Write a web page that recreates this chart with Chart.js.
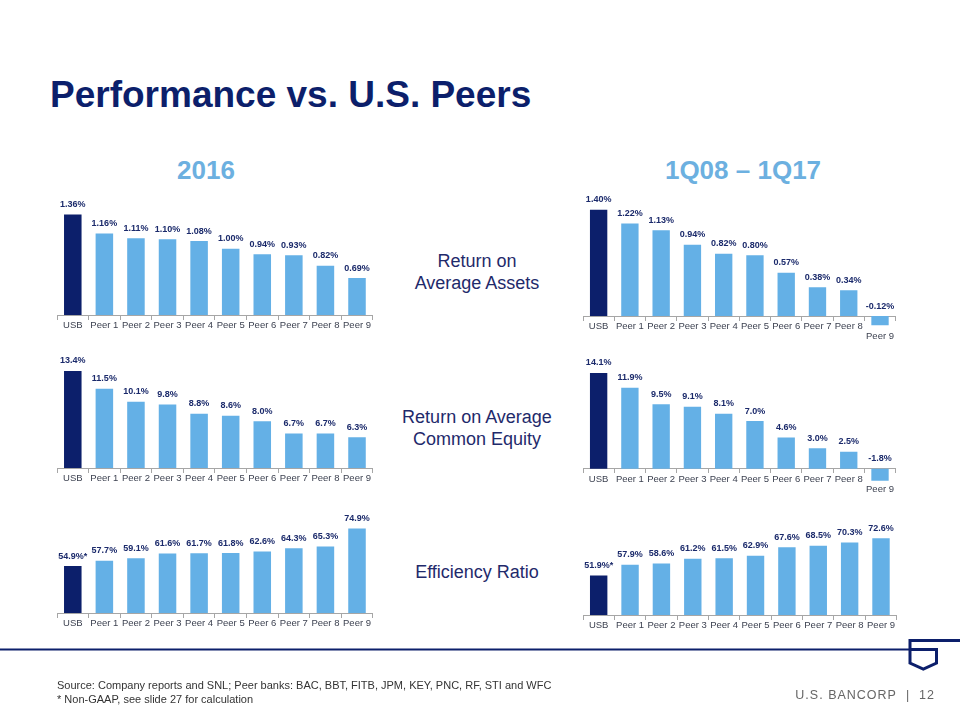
<!DOCTYPE html>
<html>
<head>
<meta charset="utf-8">
<script src="https://cdn.jsdelivr.net/npm/chart.js@4.4.0/dist/chart.umd.min.js"></script>
<style>
  body { margin: 0; background: #fff; font-family: "Liberation Sans", Arial, sans-serif; }
  #page { position: relative; width: 960px; height: 720px; overflow: hidden; }
  .txt { position: absolute; white-space: nowrap; }
  .mid { position: absolute; left: 377px; width: 200px; text-align: center; font-size: 18px; line-height: 22px; color: #1f2a6b; }
  canvas { position: absolute; }
</style>
</head>
<body>
<div id="page">
  <div class="txt" style="left:50px;top:75.7px;font-size:37px;line-height:37px;font-weight:bold;color:#0c1f6b">Performance vs. U.S. Peers</div>
  <div class="txt" style="left:106px;width:200px;text-align:center;top:157px;font-size:26px;line-height:26px;font-weight:bold;color:#6cb0e0">2016</div>
  <div class="txt" style="left:643px;width:200px;text-align:center;top:157px;font-size:26px;line-height:26px;font-weight:bold;color:#6cb0e0">1Q08 – 1Q17</div>

  <div class="mid" style="top:249.7px">Return on<br>Average Assets</div>
  <div class="mid" style="top:405.7px">Return on Average<br>Common Equity</div>
  <div class="mid" style="top:561.3px">Efficiency Ratio</div>

  <canvas id="c1"></canvas>
  <canvas id="c2"></canvas>
  <canvas id="c3"></canvas>
  <canvas id="c4"></canvas>
  <canvas id="c5"></canvas>
  <canvas id="c6"></canvas>

  <svg style="position:absolute;left:0;top:0" width="960" height="720">
    <path d="M0 649.5 H910" fill="none" stroke="#0c1f6b" stroke-width="2"/>
    <path d="M910 649.5 H936.5 V663 L923.3 669 L910 663 V640.5 H960" fill="none" stroke="#0c1f6b" stroke-width="3"/>
  </svg>

  <div class="txt" style="left:57px;top:678px;font-size:11px;line-height:14px;color:#333">Source: Company reports and SNL; Peer banks: BAC, BBT, FITB, JPM, KEY, PNC, RF, STI and WFC<br>* Non-GAAP, see slide 27 for calculation</div>
  <div class="txt" style="right:25px;top:689px;font-size:12.5px;line-height:13px;letter-spacing:1px;color:#666">U.S. BANCORP&nbsp;&nbsp;|&nbsp;&nbsp;12</div>
</div>

<script>
const categories = ['USB', 'Peer 1', 'Peer 2', 'Peer 3', 'Peer 4', 'Peer 5', 'Peer 6', 'Peer 7', 'Peer 8', 'Peer 9'];

// Return on Average Assets (%)
const roaa2016 = [1.36, 1.16, 1.11, 1.10, 1.08, 1.00, 0.94, 0.93, 0.82, 0.69];
const roaaLong = [1.40, 1.22, 1.13, 0.94, 0.82, 0.80, 0.57, 0.38, 0.34, -0.12];

// Return on Average Common Equity (%)
const roce2016 = [13.4, 11.5, 10.1, 9.8, 8.8, 8.6, 8.0, 6.7, 6.7, 6.3];
const roceLong = [14.1, 11.9, 9.5, 9.1, 8.1, 7.0, 4.6, 3.0, 2.5, -1.8];

// Efficiency Ratio (%), USB figure is non-GAAP
const eff2016 = [54.9, 57.7, 59.1, 61.6, 61.7, 61.8, 62.6, 64.3, 65.3, 74.9];
const effLong = [51.9, 57.9, 58.6, 61.2, 61.5, 62.9, 67.6, 68.5, 70.3, 72.6];

const FONT = '"Liberation Sans", Arial, sans-serif';
const NAVY = '#0c1f6b';
const LIGHT = '#64b0e6';

const fmt2 = v => v.toFixed(2) + '%';
const fmt1 = v => v.toFixed(1) + '%';
const fmtEff = (v, i) => v.toFixed(1) + '%' + (i === 0 ? '*' : '');

// value labels above each bar (negative bars get theirs above the zero line)
const valueLabels = {
  id: 'valueLabels',
  afterDatasetsDraw(chart) {
    const ds = chart.data.datasets[0];
    const meta = chart.getDatasetMeta(0);
    const ctx = chart.ctx;
    ctx.save();
    ctx.font = 'bold 9px ' + FONT;
    ctx.fillStyle = '#1b2a6b';
    ctx.textAlign = 'center';
    ctx.textBaseline = 'middle';
    meta.data.forEach((bar, i) => {
      const y = Math.min(bar.y, bar.base) - 10;
      ctx.fillText(ds.fmt(ds.data[i], i), bar.x, y);
    });
    ctx.restore();
  }
};

function makeChart(id, values, fmt, s) {
  const padTop = 12, padBottom = 30;
  const plotH = (s.max - s.min) * s.k;
  const canvas = document.getElementById(id);
  canvas.width = s.width;
  canvas.height = plotH + padTop + padBottom;
  canvas.style.left = s.left + 'px';
  canvas.style.top = (s.axisY - (s.max - s.base) * s.k - padTop) + 'px';

  return new Chart(canvas, {
    type: 'bar',
    data: {
      labels: categories,
      datasets: [{
        data: values,
        fmt: fmt,
        base: s.base,
        backgroundColor: values.map((v, i) => i === 0 ? NAVY : LIGHT),
        borderWidth: 0,
        barPercentage: 0.555,
        categoryPercentage: 1
      }]
    },
    options: {
      responsive: false,
      animation: false,
      layout: { padding: { top: padTop, bottom: padBottom, left: 0, right: 0 } },
      plugins: { legend: { display: false }, tooltip: { enabled: false } },
      scales: {
        x: {
          position: { y: s.base },
          offset: true,
          grid: { display: true, drawOnChartArea: false, drawTicks: true, tickLength: 4, color: '#a6a6a6', offset: true },
          border: { display: true, color: '#a6a6a6' },
          ticks: {
            color: '#3d4251',
            font: { family: FONT, size: 9.5, lineHeight: 1 },
            padding: 2,
            maxRotation: 0,
            autoSkip: false,
            callback: (v, i) => values[i] < 0 ? ['', categories[i]] : categories[i]
          }
        },
        y: { display: false, min: s.min, max: s.max }
      }
    },
    plugins: [valueLabels]
  });
}

makeChart('c1', roaa2016, fmt2, { left: 57, width: 316, axisY: 316, min: 0.3, max: 1.65, base: 0.3, k: 95.3 });
makeChart('c2', roaaLong, fmt2, { left: 583, width: 313, axisY: 316, min: -0.25, max: 1.7, base: 0, k: 76 });
makeChart('c3', roce2016, fmt1, { left: 56.5, width: 316, axisY: 468.3, min: 3, max: 15, base: 3, k: 9.38 });
makeChart('c4', roceLong, fmt1, { left: 583.3, width: 313, axisY: 468.3, min: -3, max: 16, base: 0, k: 6.8 });
makeChart('c5', eff2016, fmtEff, { left: 57, width: 316, axisY: 614, min: 30, max: 82, base: 30, k: 1.9 });
makeChart('c6', effLong, fmtEff, { left: 583.3, width: 314, axisY: 615, min: 30, max: 80, base: 30, k: 1.8 });
</script>
</body>
</html>
